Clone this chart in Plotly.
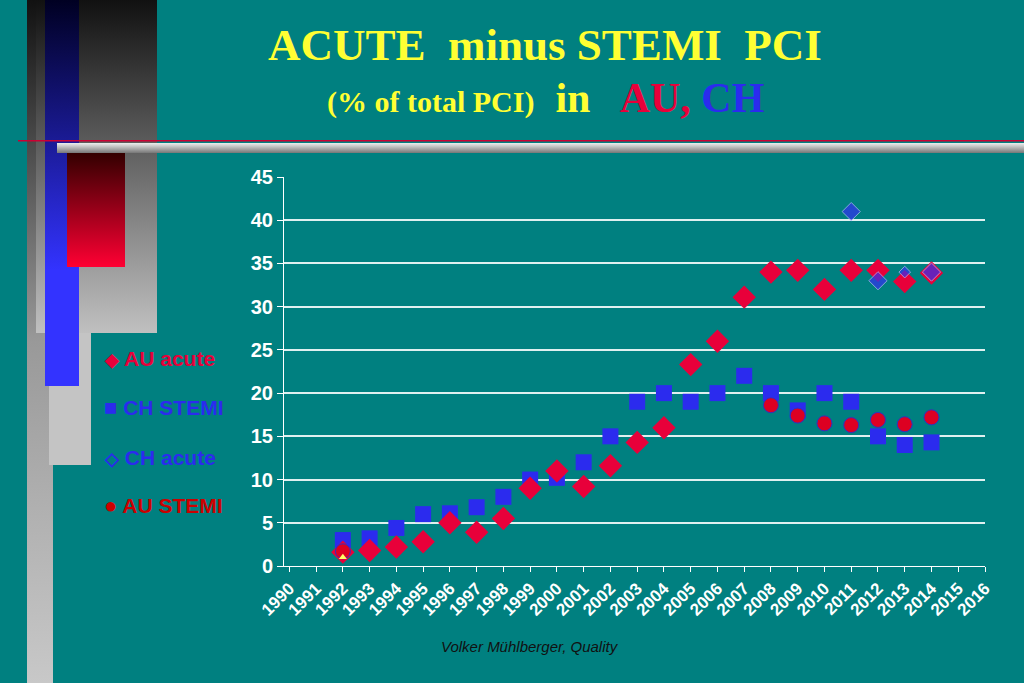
import plotly.graph_objects as go
import base64

years = list(range(1992, 2015))
ch_stemi = [3.0, 3.2, 4.4, 6.0, 6.1, 6.8, 8.0, 10, 10.2, 12, 15, 19, 20, 19, 20, 22, 20, 18, 20, 19, 15, 14, 14.3]
au_acute = [1.6, 1.8, 2.2, 2.8, 5.0, 3.9, 5.5, 9.0, 11.0, 9.2, 11.6, 14.3, 16, 23.3, 26, 31.1, 34, 34.2, 32, 34.2, 34.2, 32.9, 33.9]
ch_acute_years = [2011, 2012, 2013, 2014]
ch_acute = [41, 33, 34, 34]
ch_acute_sizes = [14, 14, 9, 14]
au_stemi_years = [1992, 2008, 2009, 2010, 2011, 2012, 2013, 2014]
au_stemi = [1.7, 18.6, 17.4, 16.5, 16.3, 16.9, 16.4, 17.2]
tri_years = [1992]
tri_vals = [1.0]
tick_years = list(range(1990, 2017))

svg = '''<svg xmlns="http://www.w3.org/2000/svg" width="1024" height="683" viewBox="0 0 1024 683" preserveAspectRatio="none">
<defs>
<linearGradient id="g1" x1="0" y1="0" x2="0" y2="1"><stop offset="0" stop-color="#111"/><stop offset="0.5" stop-color="#999"/><stop offset="1" stop-color="#c8c8c8"/></linearGradient>
<linearGradient id="g2" x1="0" y1="0" x2="0" y2="1"><stop offset="0" stop-color="#111"/><stop offset="1" stop-color="#c0c0c0"/></linearGradient>
<linearGradient id="gb" x1="0" y1="0" x2="0" y2="1"><stop offset="0" stop-color="#000022"/><stop offset="0.7" stop-color="#3333ff"/><stop offset="1" stop-color="#3333ff"/></linearGradient>
<linearGradient id="gr" x1="0" y1="0" x2="0" y2="1"><stop offset="0" stop-color="#330000"/><stop offset="1" stop-color="#ff0033"/></linearGradient>
<linearGradient id="gg" x1="0" y1="0" x2="0" y2="1"><stop offset="0" stop-color="#eee"/><stop offset="1" stop-color="#777"/></linearGradient>
</defs>
<rect x="27" y="0" width="26" height="683" fill="url(#g1)"/>
<rect x="36" y="0" width="121" height="333" fill="url(#g2)"/>
<rect x="49" y="333" width="42" height="132" fill="#c4c4c4"/>
<rect x="45" y="0" width="34" height="386" fill="url(#gb)"/>
<rect x="57" y="143" width="967" height="10" fill="url(#gg)"/>
<rect x="67" y="153" width="58" height="114" fill="url(#gr)"/>
<rect x="18" y="140" width="1006" height="1.5" fill="#cc0033"/>
</svg>'''
src = "data:image/svg+xml;base64," + base64.b64encode(svg.encode()).decode()

fig = go.Figure()
fig.add_trace(go.Scatter(x=years, y=ch_stemi, mode="markers", marker=dict(symbol="square", size=16, color="#2b2bee")))
fig.add_trace(go.Scatter(x=years, y=au_acute, mode="markers", marker=dict(symbol="diamond", size=18, color="#e8003a")))
fig.add_trace(go.Scatter(x=au_stemi_years, y=au_stemi, mode="markers", marker=dict(symbol="circle", size=15, color="#dd0022", line=dict(color="#3030c0", width=1))))
fig.add_trace(go.Scatter(x=ch_acute_years, y=ch_acute, mode="markers", marker=dict(symbol="diamond", size=ch_acute_sizes, color="#3333ee", line=dict(color="#bbbbff", width=1))))
fig.add_trace(go.Scatter(x=tri_years, y=tri_vals, mode="markers", marker=dict(symbol="triangle-up", size=7, color="#ffff66")))

W, H = 1024, 683
fig.update_layout(
    autosize=True, margin=dict(l=0, r=0, t=0, b=0, pad=0), showlegend=False,
    paper_bgcolor="#008080", plot_bgcolor="#008080",
    images=[dict(source=src, xref="paper", yref="paper", x=0, y=1, sizex=1, sizey=1,
                 xanchor="left", yanchor="top", sizing="stretch", layer="below")],
    xaxis=dict(domain=[284/W, 985/W], range=[1989.8, 2016], tickvals=tick_years,
               tickangle=-45, showgrid=False, zeroline=False, showline=True, linecolor="white",
               ticks="outside", tickcolor="white", ticklen=5, automargin=False,
               tickfont=dict(family="Liberation Sans", size=17, color="white", weight="bold")),
    yaxis=dict(domain=[1-566/H, 1-177/H], range=[0, 45], dtick=5, showgrid=True, gridcolor="#dff0f0",
               gridwidth=1.5, zeroline=False, showline=True, linecolor="white", ticks="outside",
               tickcolor="white", ticklen=6, automargin=False,
               tickfont=dict(family="Liberation Sans", size=20, color="white", weight="bold")),
)
anns = [
    dict(x=545/W, y=1-45/H, yanchor="middle", text="<b>ACUTE  minus STEMI  PCI</b>", font=dict(family="Liberation Serif", size=45, color="#ffff33")),
    dict(x=545/W, y=1-98/H, yanchor="middle", text="<b><span style='font-size:30px'>(% of total PCI)</span>  in   <span style='color:#e8003a'>AU,</span> <span style='color:#2b2bee'>CH</span></b>", font=dict(family="Liberation Serif", size=42, color="#ffff33")),
    dict(x=530/W, y=1-646/H, yanchor="middle", text="<i>Volker Mühlberger, Quality</i>", font=dict(family="Liberation Sans", size=15, color="#111")),
]
leg = [("<span style='font-size:18px'>◆</span> AU acute", "#e8003a", 358), ("<span style='font-size:22px'>■</span> CH STEMI", "#2b2bee", 407),
       ("<span style='font-size:18px'>◇</span> CH acute", "#2b2bee", 457), ("<span style='font-size:22px'>●</span> AU STEMI", "#cc0000", 505)]
for t, c, y in leg:
    anns.append(dict(x=102/W, y=1-y/H, xanchor="left", yanchor="middle", text="<b>"+t+"</b>", font=dict(family="Liberation Sans", size=21, color=c)))
for a in anns:
    a.update(xref="paper", yref="paper", showarrow=False)
    a.setdefault("xanchor", "center")
fig.update_layout(annotations=anns)
fig.write_html("out.html", default_width="100vw", default_height="100vh",
               config={"displayModeBar": False, "responsive": True})
with open("out.html", encoding="utf-8") as f:
    html = f.read()
html = html.replace("<head>", "<head><style>html,body{margin:0;padding:0;overflow:hidden;background:#008080;}</style>", 1)
with open("out.html", "w", encoding="utf-8") as f:
    f.write(html)
